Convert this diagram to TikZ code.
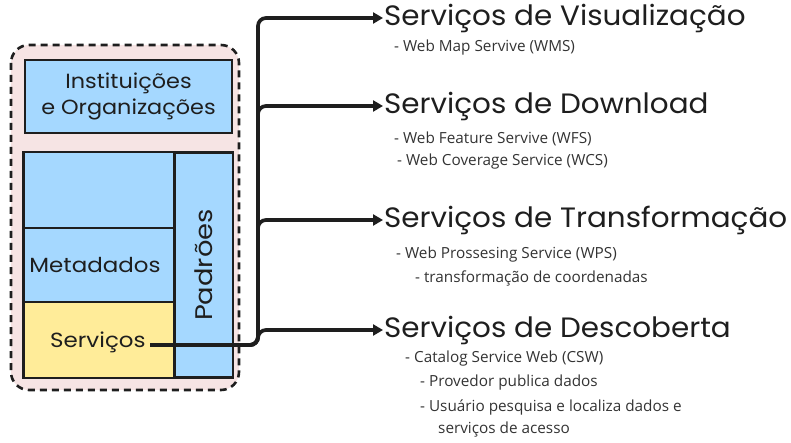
\documentclass[tikz,border=0pt]{standalone}
\usepackage{fontspec}
\setmainfont{Open Sans}
\newfontfamily\hand{Poppins}
\usetikzlibrary{arrows.meta}
\definecolor{ink}{HTML}{1E1E1E}
\definecolor{pinkbg}{HTML}{F6E4E4}
\definecolor{lblue}{HTML}{A5D8FF}
\definecolor{lyell}{HTML}{FFEC99}
\definecolor{subgray}{HTML}{333333}
\newcommand{\hw}[2]{\scalebox{#1}[1]{#2}}
\tikzset{
  box/.style={draw=ink, line width=2.4pt, fill=lblue, inner sep=0pt},
  boxtxt/.style={font=\hand\fontsize{20.5}{26}\selectfont, text=ink, align=center},
  title/.style={font=\hand\fontsize{28}{30}\selectfont, text=ink, anchor=west, inner sep=1pt},
  sub/.style={font=\fontsize{15.3}{17}\selectfont, text=subgray, anchor=west, inner sep=0pt},
  arr/.style={draw=ink, line width=3.7pt, rounded corners=8pt, -{Triangle[length=10pt,width=11pt]}},
}
\begin{document}
\begin{tikzpicture}[x=1pt,y=-1pt]
\useasboundingbox (0,0) rectangle (791,443);
% outer dashed container
\draw[ink, line width=2.6pt, dash pattern=on 7pt off 5pt, fill=pinkbg, rounded corners=18pt] (11,45) rectangle (239,390);
% boxes
\node[box, minimum width=207pt, minimum height=73pt] (inst) at (128.5,96.5) {};
\node[boxtxt] (insttxt) at (inst.center) {\hw{1.09}{Instituições}\\\hw{1.09}{e Organizações}};
\node[box, minimum width=151pt, minimum height=76pt] (top) at (99,190) {};
\node[box, minimum width=151pt, minimum height=74pt] (meta) at (99,265) {};
\node[boxtxt] (metatxt) at ([xshift=-4pt]meta.center) {\hw{1.12}{Metadados}};
\node[box, fill=lyell, minimum width=151pt, minimum height=76pt] (servbox) at (99,340) {};
\node[boxtxt, anchor=west, inner sep=0pt] (serv) at (50,342) {\hw{1.12}{Serviços}};
\node[box, minimum width=58pt, minimum height=225pt] (padr) at (204,265) {};
\node[boxtxt, rotate=90, font=\hand\fontsize{24}{26}\selectfont] (padrtxt) at (padr.center) {\hw{1.14}{Padrões}};
% titles
\node[title] (t1) at (383,18) {\hw{1.05}{Serviços de Visualização}};
\node[title] (t2) at (383,106) {\hw{1.05}{Serviços de Download}};
\node[title] (t3) at (383,220) {\hw{1.05}{Serviços de Transformação}};
\node[title] (t4) at (383,330) {\hw{1.05}{Serviços de Descoberta}};
% sub texts
\node[sub] (s1) at (394,48) {- Web Map Servive (WMS)};
\node[sub] (s2) at (394,139) {- Web Feature Servive (WFS)};
\node[sub] (s3) at (397,162) {- Web Coverage Service (WCS)};
\node[sub] (s4) at (396,255) {- Web Prossesing Service (WPS)};
\node[sub] (s5) at (415,278) {- transformação de coordenadas};
\node[sub] (s6) at (405,359) {- Catalog Service Web (CSW)};
\node[sub] (s7) at (420,383) {- Provedor publica dados};
\node[sub] (s8) at (420,407) {- Usuário pesquisa e localiza dados e};
\node[sub] (s9) at (438,430) {serviços de acesso};
% connectors
\coordinate (src) at (150,345);
\coordinate (j) at (258,345);
\draw[arr] (src) -- (j) |- (t1.west);
\draw[arr] (src) -- (j) |- (t2.west);
\draw[arr] (src) -- (j) |- (t3.west);
\draw[arr] (src) -- (j) |- (t4.west);
\end{tikzpicture}
\end{document}
